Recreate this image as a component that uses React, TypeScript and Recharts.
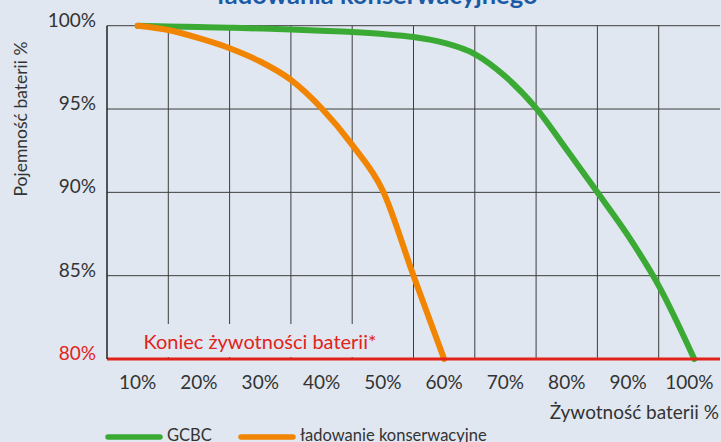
import React from 'react';
import { LineChart, Line, XAxis, YAxis, CartesianGrid, ReferenceLine, Legend } from 'recharts';

const lifeTicks = [10, 20, 30, 40, 50, 60, 70, 80, 90, 100];
const gridX = [15, 25, 35, 45, 55, 65, 75, 85, 95];
const capacityTicks = [80, 85, 90, 95, 100];

const gcbcLife = [10, 15, 20, 25, 30, 35, 40, 45, 50, 55, 60, 65, 70, 75, 80, 85, 90, 95, 100.8];
const gcbcCapacity = [100, 99.95, 99.92, 99.88, 99.83, 99.77, 99.7, 99.62, 99.5, 99.32, 98.97, 98.3, 96.95, 95.05, 92.55, 90.0, 87.4, 84.4, 80];

const floatLife = [10, 15, 20, 25, 30, 35, 40, 45, 50, 55, 60];
const floatCapacity = [100, 99.74, 99.25, 98.65, 97.85, 96.75, 95.05, 92.85, 90.1, 85, 80];

const gcbcData = gcbcLife.map((x, i) => ({ life: x, capacity: gcbcCapacity[i] }));
const floatData = floatLife.map((x, i) => ({ life: x, capacity: floatCapacity[i] }));

const BG = '#e0e7f1';
const GREEN = '#3aaa35';
const ORANGE = '#f18400';
const RED = '#e2231a';
const TEXT = '#333333';
const FONT = 'Lato, "Noto Sans", sans-serif';

const legendItems = [
  { name: 'GCBC', color: GREEN, left: 108 },
  { name: 'ładowanie konserwacyjne', color: ORANGE, left: 241 },
];

function renderLegend() {
  return (
    <svg width={721} height={24} style={{ display: 'block' }}>
      {legendItems.map((item) => (
        <g key={item.name}>
          <line x1={item.left} x2={item.left + 52} y1={19} y2={19} stroke={item.color} strokeWidth={5.5} strokeLinecap="round" />
          <text x={item.left + 59} y={22.7} fontSize={16.5} fontFamily={FONT} fill={TEXT}>
            {item.name}
          </text>
        </g>
      ))}
    </svg>
  );
}

function YTick(props: any) {
  const { x, y, payload } = props;
  return (
    <text x={x} y={y + 1} textAnchor="end" fontSize={19} fontFamily={FONT} fill={payload.value === 80 ? RED : TEXT}>
      {payload.value}%
    </text>
  );
}

function XTick(props: any) {
  const { x, y, payload } = props;
  return (
    <text x={x} y={y + 28} textAnchor="middle" fontSize={19} fontFamily={FONT} fill={TEXT}>
      {payload.value}%
    </text>
  );
}

function EndOfLifeLabel(props: any) {
  const { viewBox } = props;
  return (
    <g>
      <rect x={viewBox.x + 1} y={viewBox.y - 35} width={278} height={33} fill={BG} />
      <text x={viewBox.x + 153} y={viewBox.y - 10} textAnchor="middle" fontSize={20} fontFamily={FONT} fill={RED}>
        Koniec żywotności baterii*
      </text>
    </g>
  );
}

export default function App() {
  return (
    <div style={{ position: 'absolute', left: 0, top: 0, width: 721, height: 442, background: BG, overflow: 'hidden' }}>
      <LineChart width={721} height={442} margin={{ top: 25.7, right: 1, bottom: 0, left: 0 }}>
        <CartesianGrid stroke="#3d3d3d" strokeWidth={1} verticalValues={gridX} horizontalValues={capacityTicks} />
        <XAxis
          type="number"
          dataKey="life"
          domain={[5, 105]}
          ticks={lifeTicks}
          height={59}
          axisLine={false}
          tickLine={false}
          tickSize={0}
          tick={<XTick />}
          allowDuplicatedCategory={false}
          label={(p: any) => (
            <text x={p.viewBox.x + p.viewBox.width - 1} y={p.viewBox.y + 60} textAnchor="end" fontSize={19} fontFamily={FONT} fill={TEXT}>
              Żywotność baterii %
            </text>
          )}
        />
        <YAxis
          type="number"
          domain={[80, 100]}
          ticks={capacityTicks}
          width={107}
          axisLine={{ stroke: '#222', strokeWidth: 1.5 }}
          tickLine={false}
          tickSize={0}
          tickMargin={11}
          tick={<YTick />}
          label={() => (
            <text x={20} y={119} transform="rotate(-90 20 119)" textAnchor="middle" dominantBaseline="central" fontSize={17.5} fontFamily={FONT} fill={TEXT}>
              Pojemność baterii %
            </text>
          )}
        />
        <Legend verticalAlign="bottom" align="left" content={renderLegend} wrapperStyle={{ top: 418, bottom: 'auto', left: 0, width: 721 }} />
        <Line data={gcbcData} dataKey="capacity" name="GCBC" type="monotone" stroke={GREEN} strokeWidth={6} strokeLinecap="round" dot={false} isAnimationActive={false} />
        <Line data={floatData} dataKey="capacity" name="ładowanie konserwacyjne" type="monotone" stroke={ORANGE} strokeWidth={6} strokeLinecap="round" dot={false} isAnimationActive={false} />
        <ReferenceLine y={80} stroke={RED} strokeWidth={3} label={<EndOfLifeLabel />} />
      </LineChart>
      <svg width={721} height={12} style={{ position: 'absolute', left: 0, top: 0, pointerEvents: 'none' }}>
        <text x={377} y={4} textAnchor="middle" fontSize={25.5} fontWeight={700} fontFamily={FONT} fill="#1c5aa6">
          ładowania konserwacyjnego
        </text>
      </svg>
    </div>
  );
}
